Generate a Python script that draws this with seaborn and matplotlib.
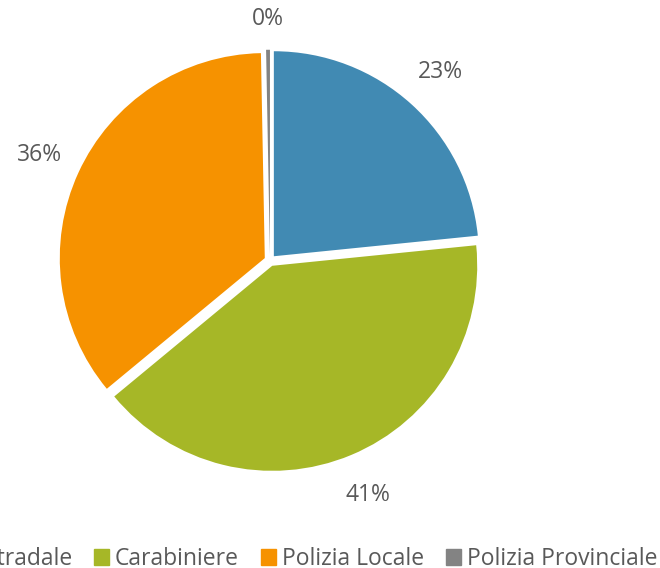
import matplotlib
matplotlib.use('Agg')
import matplotlib.pyplot as plt
import matplotlib.patches as mpatches
import seaborn as sns

# data
categories = ['Polizia Stradale', 'Carabiniere', 'Polizia Locale', 'Polizia Provinciale']
shares = [23.4, 40.6, 35.7, 0.3]
colors = ['#418AB3', '#A6B727', '#F69200', '#838383']
text_color = '#595959'

sns.set_theme(style='white')
plt.rcParams['font.family'] = ['Open Sans', 'DejaVu Sans']

fig = plt.figure(figsize=(6.6, 5.68), dpi=100)
ax = fig.add_axes([0, 0, 1, 1])

wedges, texts, autotexts = ax.pie(
    shares, colors=colors, startangle=90, counterclock=False,
    explode=[0.028] * len(shares), radius=1.0,
    autopct='%.0f%%', pctdistance=1.21,
    textprops={'color': text_color, 'fontsize': 16.5},
    wedgeprops={'linewidth': 0})

# small slice label sits a bit closer in the reference
x, y = autotexts[3].get_position()
autotexts[3].set_position((x, y * 0.95))

ax.set_aspect('auto')
ax.set_xlim(-270 / 205, 390 / 205)
ax.set_ylim(-307.5 / 205, 260.5 / 205)
ax.axis('off')

handles = [mpatches.Patch(color=c, label=l) for c, l in zip(colors, categories)]
fig.legend(handles=handles, loc='center right', ncol=4, frameon=False,
           bbox_to_anchor=(657 / 660, 9 / 568), fontsize=16.5,
           handlelength=0.65, handleheight=0.65, handletextpad=0.26,
           columnspacing=0.96, borderpad=0, borderaxespad=0,
           labelcolor=text_color)

fig.savefig('out.png', dpi=100)
plt.close(fig)
